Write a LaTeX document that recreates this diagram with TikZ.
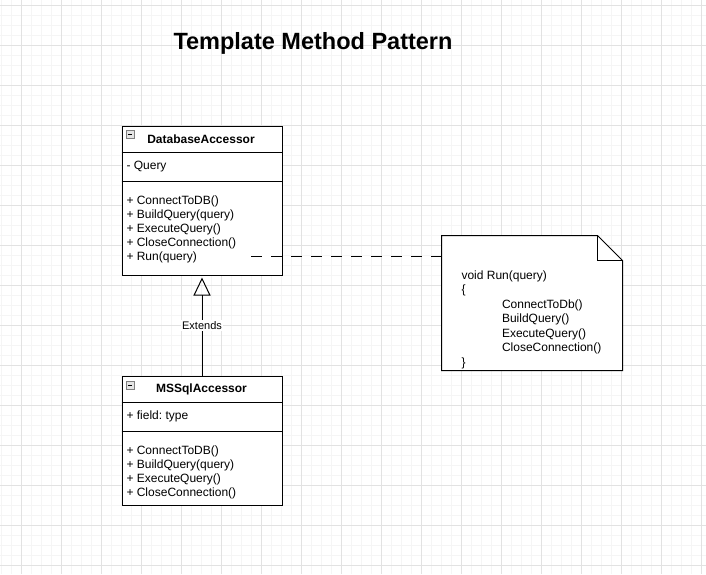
\documentclass[tikz,border=0pt]{standalone}
\usepackage{fontspec}
\setmainfont{Liberation Sans}
\usetikzlibrary{arrows.meta,calc}
\definecolor{gridminor}{HTML}{F5F5F5}
\definecolor{gridmajor}{HTML}{E2E2E2}
\frenchspacing
\begin{document}
\begin{tikzpicture}[x=1pt,y=-1pt,line width=1pt,
  minorline/.style={draw=gridminor,line width=1pt},
  majorline/.style={draw=gridmajor,line width=1pt},
  classbox/.style={draw=black,fill=white,anchor=north west,inner sep=0pt,minimum width=160pt},
  notebox/.style={anchor=north west,inner sep=0pt,minimum width=180pt,minimum height=134pt},
  txt/.style={anchor=base west,inner sep=0pt,font=\fontsize{12}{14}\selectfont},
  cname/.style={anchor=base,inner sep=0pt,font=\bfseries\fontsize{12}{14}\selectfont},
  iconbox/.style={draw=gray,fill=gray!20,line width=0.8pt},
  extline/.style={draw=black,-{Triangle[open,length=18pt,width=17pt]},shorten >=2pt},
  extlabel/.style={fill=white,inner sep=1pt,font=\fontsize{11}{13}\selectfont},
  noteline/.style={draw=black,dash pattern=on 11pt off 9pt}
]
\useasboundingbox (0,0) rectangle (706,574);
\fill[white] (0,0) rectangle (706,574);
\foreach \x in {1,11,...,701} \draw[minorline] (\x,0) -- (\x,574);
\foreach \y in {5,15,...,565} \draw[minorline] (0,\y) -- (706,\y);
\foreach \x in {21,61,...,701} \draw[majorline] (\x,0) -- (\x,574);
\foreach \y in {5,45,...,565} \draw[majorline] (0,\y) -- (706,\y);

% title
\node[anchor=base,inner sep=0pt,font=\bfseries\fontsize{23.5}{28}\selectfont] (title) at (313,49) {Template Method Pattern};

% DatabaseAccessor
\node[classbox,minimum height=149pt] (db) at (121.5,125.5) {};
\draw ($(db.north west)+(0,27)$) -- ($(db.north east)+(0,27)$);
\draw ($(db.north west)+(0,56)$) -- ($(db.north east)+(0,56)$);
\draw[iconbox] (126,130) rectangle (134,138);
\draw[line width=0.9pt] (127.8,134) -- (132.2,134);
\node[cname] (dbname) at (201,143) {DatabaseAccessor};
\node[txt] (dbattr) at (126,169) {- Query};
\node[txt] (dbm1) at (126,204) {+ ConnectToDB()};
\node[txt] (dbm2) at (126,218) {+ BuildQuery(query)};
\node[txt] (dbm3) at (126,232) {+ ExecuteQuery()};
\node[txt] (dbm4) at (126,246) {+ CloseConnection()};
\node[txt] (dbm5) at (126,260) {+ Run(query)};

% MSSqlAccessor
\node[classbox,minimum height=129.5pt] (ms) at (121.5,375.5) {};
\draw ($(ms.north west)+(0,27)$) -- ($(ms.north east)+(0,27)$);
\draw ($(ms.north west)+(0,56)$) -- ($(ms.north east)+(0,56)$);
\draw[iconbox] (126,381) rectangle (134,389);
\draw[line width=0.9pt] (127.8,385) -- (132.2,385);
\node[cname] (msname) at (201.5,392) {MSSqlAccessor};
\node[txt] (msattr) at (126,419) {+ field: type};
\node[txt] (msm1) at (126,454) {+ ConnectToDB()};
\node[txt] (msm2) at (126,468) {+ BuildQuery(query)};
\node[txt] (msm3) at (126,482) {+ ExecuteQuery()};
\node[txt] (msm4) at (126,496) {+ CloseConnection()};

% inheritance
\draw[extline] (ms.north) -- node[extlabel] (extends) {Extends} (db.south);

% note
\node[notebox] (note) at (441.5,235.5) {};
\draw[fill=white] (note.north west) -- ($(note.north east)+(-25,0)$) -- ($(note.north east)+(0,25)$) -- (note.south east) -- (note.south west) -- cycle;
\draw ($(note.north east)+(-25,0)$) -- ($(note.north east)+(-25,25)$) -- ($(note.north east)+(0,25)$);
\node[txt] (n1) at (461,279) {void Run(query)};
\node[txt] (n2) at (461,293.5) {\{};
\node[txt] (n3) at (501.5,308) {ConnectToDb()};
\node[txt] (n4) at (501.5,322.5) {BuildQuery()};
\node[txt] (n5) at (501.5,337) {ExecuteQuery()};
\node[txt] (n6) at (501.5,351.5) {CloseConnection()};
\node[txt] (n7) at (461,366) {\}};

% dashed note link
\coordinate (runend) at (251,256);
\draw[noteline] (runend) -- (note.west |- runend);
\end{tikzpicture}
\end{document}
